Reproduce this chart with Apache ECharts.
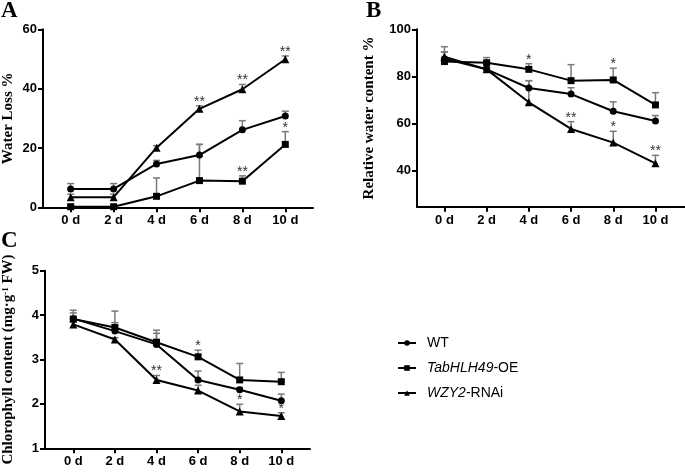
<!DOCTYPE html>
<html><head><meta charset="utf-8">
<script src="https://cdn.jsdelivr.net/npm/echarts@6/dist/echarts.min.js"></script>
<style>html,body{margin:0;padding:0;background:#fff}#c{width:685px;height:472px}</style>
</head><body><div id="c"></div>
<script>
// ---------- data ----------
const days = [0, 2, 4, 6, 8, 10];
const dayLabels = ['0 d', '2 d', '4 d', '6 d', '8 d', '10 d'];
const seriesNames = ['WT', 'TabHLH49-OE', 'WZY2-RNAi'];
const legendItalic = ['', 'TabHLH49', 'WZY2'];
const legendRest = ['WT', '-OE', '-RNAi'];
const symbols = ['circle', 'rect', 'triangle'];

// Panel A: Water Loss %
const A_WT = [6.2, 6.2, 14.6, 17.6, 26.1, 30.8];
const A_WT_err = [1.8, 1.8, 1.2, 3.6, 3.1, 1.6];
const A_OE = [0.2, 0.2, 3.7, 9.0, 8.8, 21.2];
const A_OE_err = [0.4, 0.4, 6.2, 12.2, 1.8, 4.3];
const A_RNAi = [3.4, 3.4, 20.1, 33.2, 39.8, 49.9];
const A_RNAi_err = [1.0, 1.0, 0.7, 1.0, 1.6, 1.1];
const A_WT_sig = ['', '', '', '', '', ''];
const A_OE_sig = ['', '', '', '', '**', '*'];
const A_RNAi_sig = ['', '', '', '**', '**', '**'];
const A_yTicks = [0, 20, 40, 60];

// Panel B: Relative water content %
const B_WT = [87.5, 83.0, 75.1, 72.5, 65.2, 61.1];
const B_WT_err = [5.1, 1.0, 3.1, 2.7, 4.0, 2.3];
const B_OE = [86.3, 85.8, 83.0, 78.2, 78.5, 67.9];
const B_OE_err = [4.1, 2.2, 2.4, 6.8, 5.0, 5.2];
const B_RNAi = [88.4, 83.0, 69.0, 57.7, 51.9, 43.1];
const B_RNAi_err = [2.0, 1.0, 9.2, 3.1, 4.8, 3.4];
const B_WT_sig = ['', '', '', '', '', ''];
const B_OE_sig = ['', '', '*', '', '*', ''];
const B_RNAi_sig = ['', '', '', '**', '*', '**'];
const B_yTicks = [40, 60, 80, 100];

// Panel C: Chlorophyll content
const C_WT = [3.92, 3.64, 3.34, 2.54, 2.32, 2.07];
const C_WT_err = [0.13, 0.19, 0.25, 0.20, 0.05, 0.15];
const C_OE = [3.91, 3.72, 3.39, 3.06, 2.54, 2.50];
const C_OE_err = [0.20, 0.37, 0.27, 0.15, 0.37, 0.21];
const C_RNAi = [3.79, 3.45, 2.54, 2.30, 1.83, 1.73];
const C_RNAi_err = [0.05, 0.04, 0.10, 0.12, 0.16, 0.07];
const C_WT_sig = ['', '', '', '', '', ''];
const C_OE_sig = ['', '', '', '*', '', ''];
const C_RNAi_sig = ['', '', '**', '', '*', '*'];
const C_yTicks = [1, 2, 3, 4, 5];

// ---------- build ----------
const SANS = 'Liberation Sans, Arial, sans-serif';
const SERIF = 'Liberation Serif, Times New Roman, serif';

function xAx(gi, min, max) {
  return {
    type: 'value', gridIndex: gi, min: min, max: max,
    axisLine: { show: true, onZero: false, lineStyle: { color: '#000', width: 2 } },
    axisTick: { show: true, customValues: days, length: 5, lineStyle: { color: '#000', width: 2 } },
    axisLabel: { customValues: days, formatter: v => dayLabels[days.indexOf(v)], fontFamily: SANS, fontWeight: 'bold', fontSize: 13, color: '#000', margin: 7 },
    splitLine: { show: false }
  };
}
function yAx(gi, min, max, ticks, name, gap, rich) {
  return {
    type: 'value', gridIndex: gi, min: min, max: max,
    axisLine: { show: true, onZero: false, lineStyle: { color: '#000', width: 2 } },
    axisTick: { show: true, customValues: ticks, length: 5, lineStyle: { color: '#000', width: 2 } },
    axisLabel: { customValues: ticks, fontFamily: SANS, fontWeight: 'bold', fontSize: 13, color: '#000', margin: 6 },
    splitLine: { show: false },
    name: name, nameLocation: 'middle', nameGap: gap,
    nameTextStyle: { fontFamily: SERIF, fontWeight: 'bold', fontSize: 15, color: '#000', rich: rich || {} }
  };
}
function lineS(gi, k, vals) {
  return {
    type: 'line', name: seriesNames[k], xAxisIndex: gi, yAxisIndex: gi,
    data: days.map((d, i) => [d, vals[i]]),
    symbol: symbols[k], symbolSize: k === 2 ? 8 : 7, showSymbol: true,
    lineStyle: { color: '#000', width: 2 }, itemStyle: { color: '#000' },
    z: 3, animation: false
  };
}
function errS(gi, vals, errs) {
  return {
    type: 'custom', xAxisIndex: gi, yAxisIndex: gi, z: 1, silent: true, animation: false,
    data: days.map((d, i) => [d, vals[i], errs[i]]),
    renderItem: (p, api) => {
      const x = api.value(0), y = api.value(1), e = api.value(2);
      const a = api.coord([x, y]), b = api.coord([x, y + e]);
      return { type: 'group', children: [
        { type: 'line', shape: { x1: a[0], y1: a[1], x2: b[0], y2: b[1] }, style: { stroke: '#7a7a7a', lineWidth: 1.5 } },
        { type: 'line', shape: { x1: b[0] - 3.5, y1: b[1], x2: b[0] + 3.5, y2: b[1] }, style: { stroke: '#7a7a7a', lineWidth: 1.5 } }
      ] };
    }
  };
}
function sigS(gi, vals, errs, sig) {
  return {
    type: 'custom', xAxisIndex: gi, yAxisIndex: gi, z: 4, silent: true, animation: false,
    data: days.map((d, i) => [d, vals[i] + errs[i]]),
    renderItem: (p, api) => {
      const t = sig[p.dataIndex];
      if (!t) return null;
      const c = api.coord([api.value(0), api.value(1)]);
      return { type: 'text', style: { text: t, x: c[0], y: c[1] + 3, align: 'center', verticalAlign: 'bottom', fontSize: 14, fontFamily: SANS, fill: '#333' } };
    }
  };
}

const panels = [
  [A_WT, A_WT_err, A_WT_sig, A_OE, A_OE_err, A_OE_sig, A_RNAi, A_RNAi_err, A_RNAi_sig],
  [B_WT, B_WT_err, B_WT_sig, B_OE, B_OE_err, B_OE_sig, B_RNAi, B_RNAi_err, B_RNAi_sig],
  [C_WT, C_WT_err, C_WT_sig, C_OE, C_OE_err, C_OE_sig, C_RNAi, C_RNAi_err, C_RNAi_sig]
];
const series = [];
panels.forEach((p, gi) => {
  for (let k = 0; k < 3; k++) series.push(errS(gi, p[k * 3], p[k * 3 + 1]));
  for (let k = 0; k < 3; k++) series.push(lineS(gi, k, p[k * 3]));
  for (let k = 0; k < 3; k++) series.push(sigS(gi, p[k * 3], p[k * 3 + 1], p[k * 3 + 2]));
});

const chart = echarts.init(document.getElementById('c'), null, { renderer: 'canvas' });
chart.setOption({
  animation: false,
  backgroundColor: '#fff',
  title: [
    { text: 'A', left: 1, top: 0, padding: 0, textStyle: { fontFamily: SERIF, fontWeight: 'bold', fontSize: 23, color: '#000' } },
    { text: 'B', left: 366, top: 0, padding: 0, textStyle: { fontFamily: SERIF, fontWeight: 'bold', fontSize: 23, color: '#000' } },
    { text: 'C', left: 1, top: 230, padding: 0, textStyle: { fontFamily: SERIF, fontWeight: 'bold', fontSize: 23, color: '#000' } }
  ],
  grid: [
    { left: 40, top: 29.3, width: 273, height: 178, containLabel: false },
    { left: 417, top: 29.3, width: 268, height: 177.4, containLabel: false },
    { left: 40.7, top: 270.7, width: 269.3, height: 177.6, containLabel: false }
  ],
  xAxis: [xAx(0, -1.29, 11.29), xAx(1, -1.3, 11.4), xAx(2, -1.36, 11.38)],
  yAxis: [
    yAx(0, 0, 60, A_yTicks, 'Water Loss %', 27),
    yAx(1, 24.7, 100, B_yTicks, 'Relative water content %', 40),
    yAx(2, 1, 5, C_yTicks, 'Chlorophyll content (mg·g{s|-1} FW)', 29,
        { s: { fontFamily: SERIF, fontWeight: 'bold', fontSize: 9, color: '#000', verticalAlign: 'top' } })
  ],
  legend: {
    data: seriesNames, left: 392, top: 331, orient: 'vertical',
    itemWidth: 18, itemHeight: 7, itemGap: 11,
    formatter: name => { const i = seriesNames.indexOf(name); return (legendItalic[i] ? '{i|' + legendItalic[i] + '}' : '') + legendRest[i]; },
    textStyle: { fontFamily: SANS, fontSize: 14, color: '#000', padding: [0, 0, 0, 6],
      rich: { i: { fontFamily: SANS, fontSize: 14, fontStyle: 'italic', color: '#000' } } }
  },
  series: series
});
</script>
</body></html>
